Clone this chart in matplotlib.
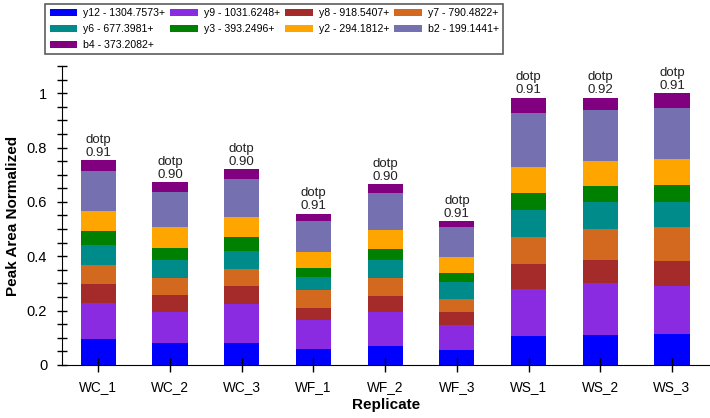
import matplotlib.pyplot as plt
import numpy as np
from matplotlib.ticker import MultipleLocator

plt.rcParams['font.family'] = ['Liberation Sans', 'DejaVu Sans']

replicates = ['WC_1', 'WC_2', 'WC_3', 'WF_1', 'WF_2', 'WF_3', 'WS_1', 'WS_2', 'WS_3']
dotp = ['0.91', '0.90', '0.90', '0.91', '0.90', '0.91', '0.91', '0.92', '0.91']

ions = ['y12 - 1304.7573+', 'y9 - 1031.6248+', 'y8 - 918.5407+', 'y7 - 790.4822+',
        'y6 - 677.3981+', 'y3 - 393.2496+', 'y2 - 294.1812+', 'b2 - 199.1441+',
        'b4 - 373.2082+']
colors = ['#0000FF', '#8A2BE2', '#A52A2A', '#D2691E', '#008B8B', '#008000',
          '#FFA500', '#7570B0', '#800080']

# stacked segments per replicate, bottom to top (y12 ... b4)
y12 = [0.094, 0.082, 0.082, 0.058, 0.070, 0.054, 0.107, 0.110, 0.115]
y9  = [0.135, 0.111, 0.143, 0.108, 0.126, 0.093, 0.174, 0.192, 0.176]
y8  = [0.069, 0.065, 0.066, 0.043, 0.058, 0.048, 0.090, 0.085, 0.092]
y7  = [0.069, 0.061, 0.061, 0.065, 0.066, 0.049, 0.100, 0.114, 0.123]
y6  = [0.076, 0.068, 0.066, 0.051, 0.067, 0.063, 0.100, 0.097, 0.092]
y3  = [0.050, 0.045, 0.051, 0.033, 0.040, 0.032, 0.060, 0.061, 0.066]
y2  = [0.074, 0.074, 0.077, 0.058, 0.070, 0.057, 0.098, 0.091, 0.094]
b2  = [0.145, 0.130, 0.137, 0.113, 0.134, 0.110, 0.200, 0.190, 0.186]
b4  = [0.041, 0.036, 0.037, 0.028, 0.034, 0.023, 0.055, 0.044, 0.056]
series = [y12, y9, y8, y7, y6, y3, y2, b2, b4]

fig = plt.figure(figsize=(7.1, 4.18), dpi=100)
ax = fig.add_axes([0.087, 0.127, 0.913, 0.715])

x = np.arange(len(replicates))
bottom = np.zeros(len(replicates))
handles = []
for vals, c, lab in zip(series, colors, ions):
    h = ax.bar(x, vals, 0.49, bottom=bottom, color=c, label=lab, linewidth=0)
    handles.append(h)
    bottom += np.array(vals)

for xi, top, d in zip(x, bottom, dotp):
    ax.text(xi, top + 0.004, 'dotp\n' + d, ha='center', va='bottom',
            fontsize=9.5, linespacing=1.15, color='#222222')

ax.set_xlim(-0.51, 8.53)
ax.set_ylim(0, 1.1)
ax.set_xticks(x)
ax.set_xticklabels(replicates, fontsize=9.8)
ax.yaxis.set_major_locator(MultipleLocator(0.2))
ax.yaxis.set_minor_locator(MultipleLocator(0.05))
ax.set_yticks([0, 0.2, 0.4, 0.6, 0.8, 1.0])
ax.set_yticklabels(['0', '0.2', '0.4', '0.6', '0.8', '1'], fontsize=10.5)
ax.tick_params(axis='y', which='both', direction='inout', length=7, width=1, pad=7)
ax.tick_params(axis='x', direction='inout', length=10, width=1, pad=6)
for s in ['top', 'right']:
    ax.spines[s].set_visible(False)
ax.set_xlabel('Replicate', fontsize=11, fontweight='bold', labelpad=3)
ax.set_ylabel('Peak Area Normalized', fontsize=11, fontweight='bold', labelpad=5)

# legend is filled column-wise, reorder so it reads row by row
order = [0, 4, 8, 1, 5, 2, 6, 3, 7]
leg = fig.legend(handles=[handles[i] for i in order], loc='upper left',
                 bbox_to_anchor=(0.064, 0.99), borderaxespad=0,
                 ncol=4, fontsize=7.6, frameon=True, fancybox=False,
                 edgecolor='#333333', handlelength=2.6, handleheight=0.6,
                 handletextpad=0.6, columnspacing=0.45, labelspacing=0.55,
                 borderpad=0.4)
leg.get_frame().set_linewidth(1.2)

fig.savefig('out.png', dpi=100)
